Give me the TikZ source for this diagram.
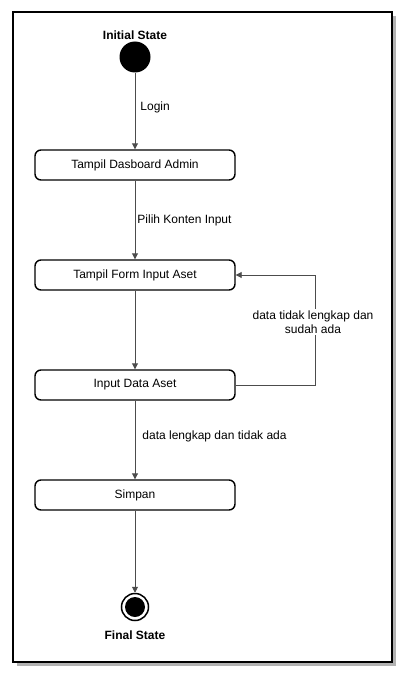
\documentclass[tikz,border=0pt]{standalone}
\usepackage{fontspec}
\setmainfont{Liberation Sans}
\usetikzlibrary{arrows.meta}
\def\lbl{\fontsize{12}{14}\selectfont}

\begin{document}
\begin{tikzpicture}[x=1pt,y=-1pt,
    act/.style={draw, line width=1.4pt, rounded corners=6pt, minimum width=200pt, minimum height=30pt, inner sep=0pt, font=\lbl},
    flow/.style={draw=black!70, line width=0.9pt, -{Triangle[length=6pt,width=6pt]}},
    txt/.style={font=\lbl, inner sep=1pt},
    state/.style={font=\lbl\bfseries, inner sep=0pt}]
    \useasboundingbox (0,0) rectangle (412,682);
    % frame with shadow
    \fill[black!30] (17,16) rectangle (396,666);
    \draw[fill=white, line width=2pt] (13,12) rectangle (392,662);
    % states
    \node[state] (initlbl) at (135,35) {Initial State};
    \node[circle, fill=black, minimum size=31pt, inner sep=0pt] (init) at (135,57) {};
    \node[act] (dash) at (135,165) {Tampil Dasboard Admin};
    \node[act] (form) at (135,275) {Tampil Form Input Aset};
    \node[act] (input) at (135,385) {Input Data Aset};
    \node[act] (save) at (135,495) {Simpan};
    \node[circle, draw, line width=1.5pt, minimum size=27pt, inner sep=0pt,
        path picture={\fill (path picture bounding box.center) circle (10pt);}] (final) at (135,607) {};
    \node[state] (finallbl) at (135,635) {Final State};
    % transitions
    \draw[flow] (init) -- node[txt, right=4pt, pos=0.45] {Login} (dash);
    \draw[flow] (dash) -- node[txt, right=1pt] {Pilih Konten Input} (form);
    \draw[flow] (form) -- (input);
    \draw[flow] (input) -- node[txt, right=6pt, pos=0.45] {data lengkap dan tidak ada} (save);
    \draw[flow] (save) -- (final);
    \draw[flow] (input.east) -- ++(80,0) coordinate (loop) |- (form.east);
    \node[txt, fill=white, align=center, inner sep=2pt] (cond) at (313,322) {data tidak lengkap dan\\sudah ada};
\end{tikzpicture}
\end{document}
